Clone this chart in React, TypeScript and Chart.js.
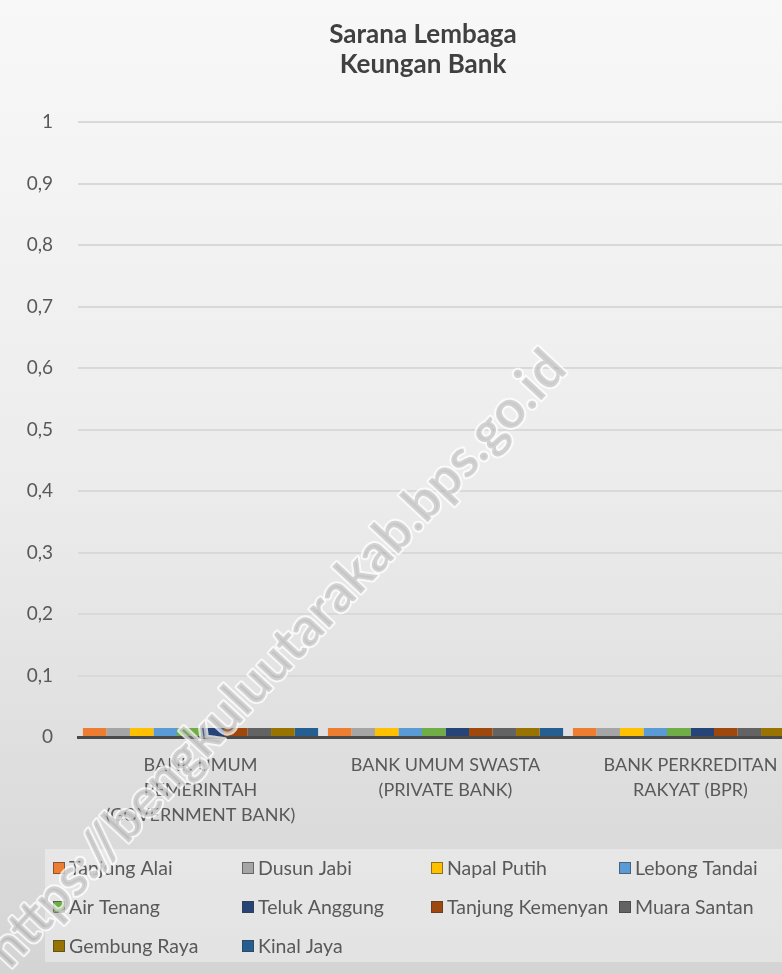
import React, { useEffect, useRef } from "react";
import { Chart, registerables } from "chart.js";

Chart.register(...registerables);

const titleLines = ["Sarana Lembaga", "Keungan Bank"];
const categories = [
  ["BANK UMUM", "PEMERINTAH", "(GOVERNMENT BANK)"],
  ["BANK UMUM SWASTA", "(PRIVATE BANK)"],
  ["BANK PERKREDITAN", "RAKYAT (BPR)"],
];
const seriesNames = [
  "Tanjung Alai",
  "Dusun Jabi",
  "Napal Putih",
  "Lebong Tandai",
  "Air Tenang",
  "Teluk Anggung",
  "Tanjung Kemenyan",
  "Muara Santan",
  "Gembung Raya",
  "Kinal Jaya",
];
const seriesColors = [
  "#ED7D31",
  "#A5A5A5",
  "#FFC000",
  "#5B9BD5",
  "#70AD47",
  "#264478",
  "#9E480E",
  "#636363",
  "#997300",
  "#255E91",
];
const tanjungAlai = [0, 0, 0];
const dusunJabi = [0, 0, 0];
const napalPutih = [0, 0, 0];
const lebongTandai = [0, 0, 0];
const airTenang = [0, 0, 0];
const telukAnggung = [0, 0, 0];
const tanjungKemenyan = [0, 0, 0];
const muaraSantan = [0, 0, 0];
const gembungRaya = [0, 0, 0];
const kinalJaya = [0, 0, 0];
const seriesValues = [
  tanjungAlai,
  dusunJabi,
  napalPutih,
  lebongTandai,
  airTenang,
  telukAnggung,
  tanjungKemenyan,
  muaraSantan,
  gembungRaya,
  kinalJaya,
];
const yTicks = [0, 0.1, 0.2, 0.3, 0.4, 0.5, 0.6, 0.7, 0.8, 0.9, 1];
const watermark = "https://bengkuluutarakab.bps.go.id";

const FONT = "Lato, 'Open Sans', sans-serif";
const CANVAS_W = 846;
const CANVAS_H = 974;

const bgPlugin = {
  id: "bgPlugin",
  beforeDraw(chart: any) {
    const { ctx, width, height } = chart;
    ctx.save();
    const g = ctx.createLinearGradient(0, 0, 0, height);
    g.addColorStop(0, "#f8f8f8");
    g.addColorStop(0.5, "#ececec");
    g.addColorStop(1, "#d4d4d4");
    ctx.fillStyle = g;
    ctx.fillRect(0, 0, width, height);
    ctx.restore();
  },
};

const titlePlugin = {
  id: "manualTitle",
  afterDraw(chart: any) {
    const { ctx } = chart;
    ctx.save();
    ctx.font = `bold 26px ${FONT}`;
    ctx.fillStyle = "#404040";
    ctx.textAlign = "center";
    ctx.textBaseline = "middle";
    ctx.fillText(titleLines[0], CANVAS_W / 2, 35);
    ctx.fillText(titleLines[1], CANVAS_W / 2, 65);
    ctx.restore();
  },
};

const legendPlugin = {
  id: "gridLegend",
  afterDraw(chart: any) {
    const { ctx } = chart;
    ctx.save();
    ctx.fillStyle = "rgba(255,255,255,0.35)";
    ctx.fillRect(45, 849, 820, 113);
    const colX = [53, 242, 431, 619];
    const rowY = [868, 907, 946];
    ctx.font = `19.5px ${FONT}`;
    ctx.textBaseline = "middle";
    chart.data.datasets.forEach((ds: any, i: number) => {
      const x = colX[i % 4];
      const y = rowY[Math.floor(i / 4)];
      ctx.fillStyle = ds.backgroundColor;
      ctx.fillRect(x, y - 6, 12, 12);
      ctx.strokeStyle = "rgba(60,60,60,0.6)";
      ctx.lineWidth = 1;
      ctx.strokeRect(x + 0.5, y - 5.5, 11, 11);
      ctx.fillStyle = "#595959";
      ctx.fillText(ds.label, x + 16, y + 1);
    });
    ctx.restore();
  },
};

const watermarkPlugin = {
  id: "watermark",
  afterDraw(chart: any) {
    const { ctx } = chart;
    ctx.save();
    ctx.translate(10, 970);
    ctx.rotate(-47 * Math.PI / 180);
    ctx.font = `bold 53px ${FONT}`;
    ctx.textBaseline = "alphabetic";
    ctx.lineJoin = "round";
    ctx.lineWidth = 4;
    ctx.strokeStyle = "rgba(255,255,255,0.75)";
    ctx.strokeText(watermark, 0, 0);
    ctx.fillStyle = "rgba(150,150,150,0.4)";
    ctx.fillText(watermark, 0, 0);
    ctx.restore();
  },
};

export default function App() {
  const ref = useRef<HTMLCanvasElement | null>(null);
  useEffect(() => {
    if (!ref.current) return;
    document.body.style.margin = "0";
    const chart = new Chart(ref.current, {
      type: "bar",
      data: {
        labels: categories,
        datasets: seriesNames.map((name, i) => ({
          label: name,
          data: seriesValues[i],
          backgroundColor: seriesColors[i],
          borderWidth: 0,
          minBarLength: 9,
          categoryPercentage: 0.96,
          barPercentage: 1,
        })),
      },
      options: {
        animation: false,
        responsive: false,
        maintainAspectRatio: false,
        layout: { padding: { left: 8, right: 33, top: 122, bottom: 147 } },
        plugins: {
          legend: { display: false },
          tooltip: { enabled: false },
          title: { display: false },
        },
        scales: {
          x: {
            grid: { display: false },
            border: { display: true, color: "#4a4a4a", width: 3 },
            ticks: {
              color: "#595959",
              font: { family: FONT, size: 18, lineHeight: 1.38 },
              padding: 8,
              maxRotation: 0,
              autoSkip: false,
            },
            afterFit(scale: any) {
              scale.height = 90;
            },
          },
          y: {
            min: 0,
            max: 1,
            afterBuildTicks(scale: any) {
              scale.ticks = yTicks.map((v) => ({ value: v }));
            },
            grid: { color: "#d9d9d9", lineWidth: 2, drawTicks: false },
            border: { display: false },
            ticks: {
              color: "#595959",
              font: { family: FONT, size: 19 },
              padding: 25,
              callback: (v: any) => String(Math.round(Number(v) * 10) / 10).replace(".", ","),
            },
            afterFit(scale: any) {
              scale.width = 70;
            },
          },
        },
      },
      plugins: [bgPlugin, titlePlugin, legendPlugin, watermarkPlugin],
    });
    return () => chart.destroy();
  }, []);
  return (
    <div style={{ position: "fixed", left: 0, top: 0, width: 782, height: 974, overflow: "hidden" }}>
      <canvas
        ref={ref}
        width={CANVAS_W}
        height={CANVAS_H}
        style={{ display: "block", width: CANVAS_W, height: CANVAS_H }}
      />
    </div>
  );
}
